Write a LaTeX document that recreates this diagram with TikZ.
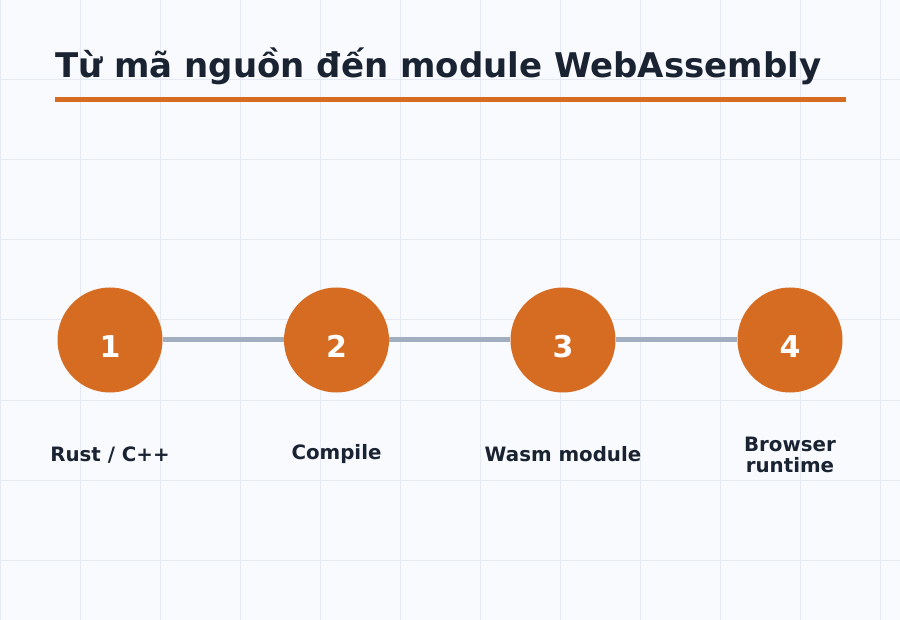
\documentclass[tikz,border=0pt]{standalone}
\usepackage{fontspec}
\setmainfont{DejaVu Sans}
\definecolor{bgc}{HTML}{F8FAFE}
\definecolor{gridc}{HTML}{E5EAF2}
\definecolor{orangec}{HTML}{D66B22}
\definecolor{linec}{HTML}{A0AEC0}
\definecolor{darkc}{HTML}{1A2332}
\tikzset{
  stepcirc/.style={circle, fill=orangec, minimum size=105pt, inner sep=0pt},
  steplabel/.style={text=darkc, font=\fontsize{19.8}{21}\selectfont\bfseries, align=center},
  conn/.style={draw=linec, line width=5pt}
}
\begin{document}
\begin{tikzpicture}[x=1pt,y=-1pt]
\fill[bgc] (0,0) rectangle (900,620);
\useasboundingbox (0,0) rectangle (900,620);
\foreach \i in {0,80,...,880} {\draw[gridc, line width=1pt] (\i,0) -- (\i,620);}
\foreach \j in {0,80,...,560} {\draw[gridc, line width=1pt] (0,\j) -- (900,\j);}
\node[anchor=base west, text=darkc, font=\fontsize{34}{38}\selectfont\bfseries, inner sep=0pt] (title) at (55,78) {Từ mã nguồn đến module WebAssembly};
\coordinate (ul1) at (55,100);
\coordinate (ul2) at (846,100);
\draw[orangec, line width=5pt] (ul1) -- (ul2);
\node[stepcirc] (c1) at (110,340) {};
\node[stepcirc] (c2) at (336.5,340) {};
\node[stepcirc] (c3) at (563,340) {};
\node[stepcirc] (c4) at (790,340) {};
\draw[conn] (c1) -- (c2);
\draw[conn] (c2) -- (c3);
\draw[conn] (c3) -- (c4);
\foreach \k/\x in {1/110,2/336.5,3/563,4/790} {\node[text=white, font=\fontsize{30}{30}\selectfont\bfseries, anchor=base, inner sep=0pt] (n\k) at (\x,358) {\k};}
\node[steplabel, anchor=base] (l1) at (110,461) {Rust / C++};
\node[steplabel, anchor=base] (l2) at (336.5,459) {Compile};
\node[steplabel, anchor=base] (l3) at (563,461) {Wasm module};
\node[steplabel] (l4) at (790,455) {Browser\\runtime};
\end{tikzpicture}
\end{document}
